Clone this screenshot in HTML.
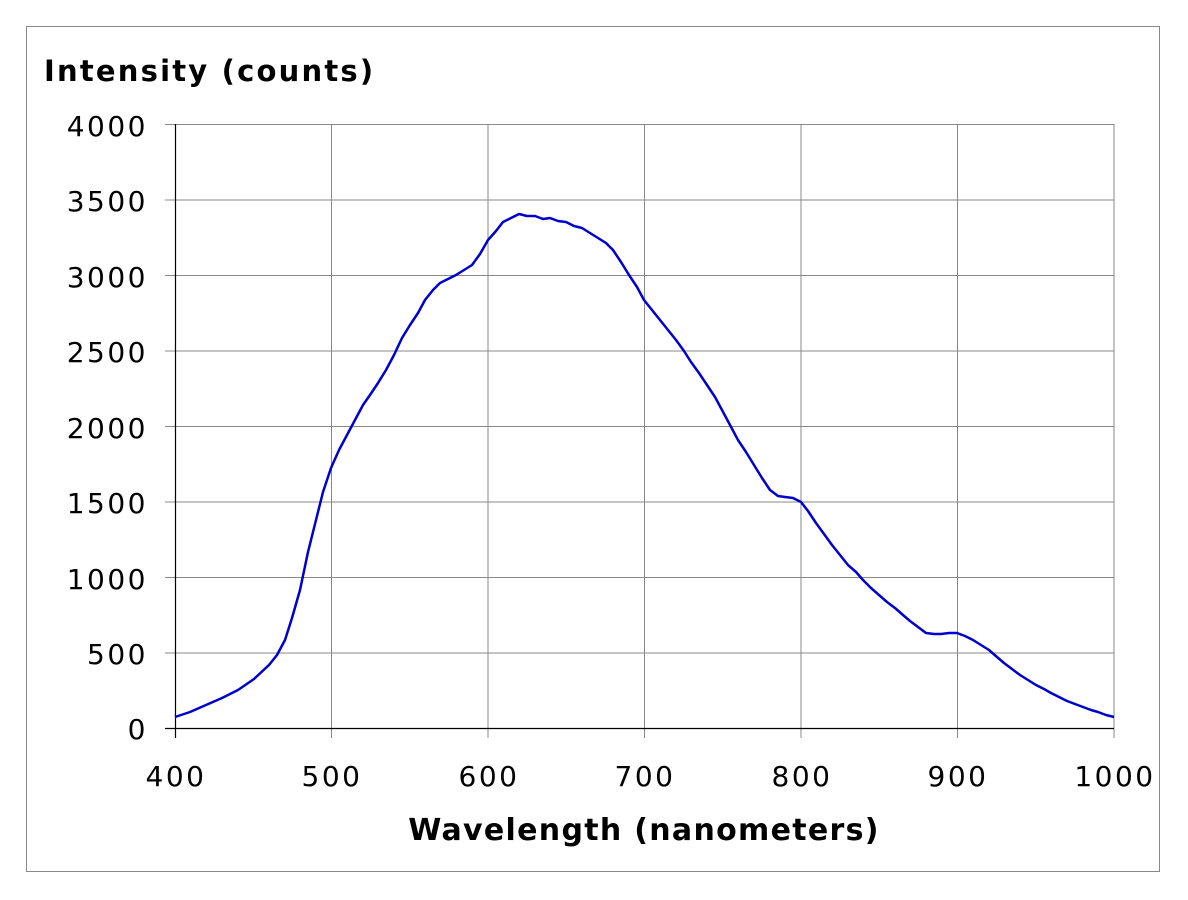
<!DOCTYPE html>
<html><head><meta charset="utf-8"><style>
html,body{margin:0;padding:0;background:#fff;}
svg{display:block;}
text{font-family:"DejaVu Sans","Liberation Sans",sans-serif;fill:#000;}
</style></head><body>
<svg width="1188" height="900" viewBox="0 0 1188 900" xmlns="http://www.w3.org/2000/svg">
<rect x="26.5" y="26.5" width="1133" height="845" fill="#fff" stroke="#888" stroke-width="1"/>
<g stroke="#888" stroke-width="1">
<line x1="165" y1="124.5" x2="1114" y2="124.5"/>
<line x1="165" y1="200" x2="1114" y2="200"/>
<line x1="165" y1="275.5" x2="1114" y2="275.5"/>
<line x1="165" y1="351" x2="1114" y2="351"/>
<line x1="165" y1="426.5" x2="1114" y2="426.5"/>
<line x1="165" y1="502" x2="1114" y2="502"/>
<line x1="165" y1="577.5" x2="1114" y2="577.5"/>
<line x1="165" y1="653" x2="1114" y2="653"/>
<line x1="331.5" y1="124" x2="331.5" y2="738"/>
<line x1="488" y1="124" x2="488" y2="738"/>
<line x1="644.5" y1="124" x2="644.5" y2="738"/>
<line x1="801" y1="124" x2="801" y2="738"/>
<line x1="957.5" y1="124" x2="957.5" y2="738"/>
<line x1="1114" y1="124" x2="1114" y2="738"/>
</g>
<g stroke="#000" stroke-width="1.2">
<line x1="175.5" y1="124" x2="175.5" y2="738"/>
<line x1="165" y1="728.5" x2="1114" y2="728.5"/>
</g>
<g font-size="28" text-anchor="end" letter-spacing="2.5">
<text x="148" y="136">4000</text>
<text x="148" y="211">3500</text>
<text x="148" y="287">3000</text>
<text x="148" y="362">2500</text>
<text x="148" y="438">2000</text>
<text x="148" y="513">1500</text>
<text x="148" y="589">1000</text>
<text x="148" y="664">500</text>
<text x="148" y="739">0</text>
</g>
<g font-size="28" text-anchor="middle" letter-spacing="2.5">
<text x="176" y="786">400</text>
<text x="332" y="786">500</text>
<text x="489" y="786">600</text>
<text x="645" y="786">700</text>
<text x="802" y="786">800</text>
<text x="958" y="786">900</text>
<text x="1115" y="786">1000</text>
</g>
<text x="44" y="81" font-size="29" font-weight="bold" letter-spacing="2.2">Intensity (counts)</text>
<text x="644" y="840" font-size="30" font-weight="bold" text-anchor="middle" letter-spacing="1.3">Wavelength (nanometers)</text>
<polyline fill="none" stroke="#0000cc" stroke-width="2.5" stroke-linejoin="round" points="175,717 190,712 206,705 222,698 238,690 254,679 269,665 277,655 285,640 292,618 300,590 308,552 316,520 323,492 331,468 339,450 347,435 355,420 363,405 370,395 378,383 386,370 394,355 402,338 410,325 418,313 425,300 433,290 440,283 448,279 456,275 464,270 472,265 480,254 488,240 496,231 503,222 511,218 519,214 527,216 535,216 543,219 550,218 558,221 566,222 574,226 582,228 590,233 598,238 606,243 613,250 621,262 629,275 637,287 644,300 652,310 660,320 668,330 676,340 684,351 691,362 699,373 707,385 715,397 722,410 730,425 738,440 746,452 754,465 762,478 770,490 778,496 785,497 793,498 801,502 808,511 816,523 824,534 832,545 840,555 848,565 856,572 863,580 871,588 879,595 887,602 895,608 903,615 910,621 918,627 926,633 934,634 941,634 949,633 957,633 965,636 973,640 981,645 989,650 997,657 1004,663 1012,669 1020,675 1028,680 1036,685 1044,689 1051,693 1059,697 1067,701 1075,704 1083,707 1091,710 1098,712 1106,715 1114,717"/>
</svg>
</body></html>
